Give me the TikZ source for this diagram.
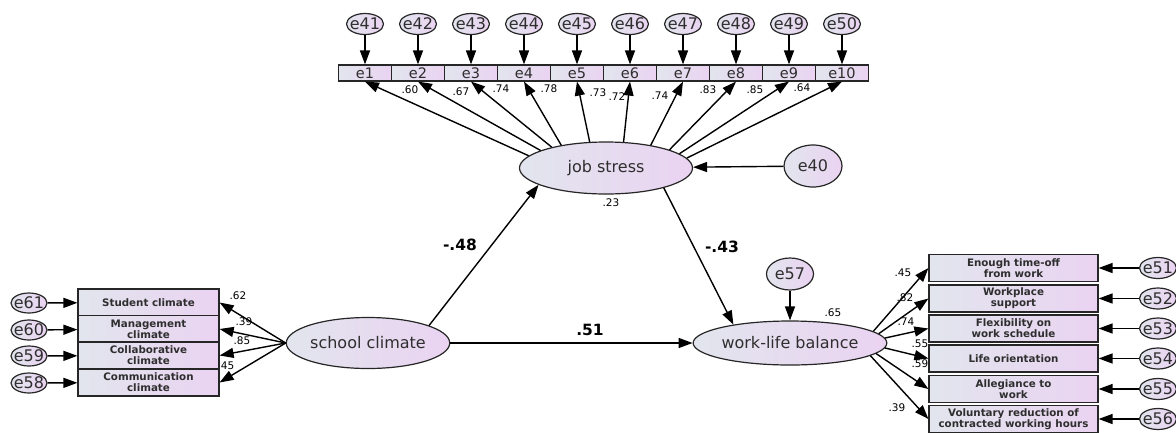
\documentclass[tikz,border=0pt]{standalone}
\usepackage{fontspec}
\setmainfont{DejaVu Sans}
\usetikzlibrary{shapes.geometric,arrows.meta}

\definecolor{amosblue}{HTML}{E2E5EE}
\definecolor{amoslilac}{HTML}{EAD3F1}
\definecolor{amostext}{HTML}{2E2E2E}

\tikzset{
  latent/.style={ellipse, draw=black!85, line width=1.2pt, left color=amosblue,
    right color=amoslilac, inner sep=0pt, text=amostext,
    font=\fontsize{16}{18}\selectfont},
  errvar/.style={ellipse, draw=black!85, line width=1.2pt, left color=amosblue,
    right color=amoslilac, inner xsep=-5pt, inner ysep=0pt, text=amostext,
    minimum width=37pt, minimum height=21pt, font=\fontsize{16}{18}\selectfont},
  obsbox/.style={rectangle, draw=black!85, line width=1.2pt, left color=amosblue,
    right color=amoslilac, inner sep=0pt, minimum width=53pt, minimum height=16pt,
    text=amostext, font=\fontsize{14.5}{15}\selectfont},
  itembox/.style={rectangle, draw=black!85, line width=1.2pt, left color=amosblue,
    right color=amoslilac, inner sep=0pt, minimum height=27pt, align=center,
    text=amostext, font=\bfseries\fontsize{10.3}{11}\selectfont},
  regarrow/.style={-{Triangle[length=14pt,width=10pt]}, line width=1.4pt},
  coef/.style={inner sep=0pt, font=\fontsize{10.5}{12}\selectfont},
  bcoef/.style={inner sep=0pt, font=\bfseries\fontsize{15.5}{17}\selectfont},
}

\begin{document}
\begin{tikzpicture}[x=1pt, y=-1pt]
\useasboundingbox (0,0) rectangle (1176,432);

% loadings drawn first (boxes cover them)
\node [coef] (c60) at (410,90) {.60};
\node [coef] (c67) at (461,92) {.67};
\node [coef] (c74a) at (501,89) {.74};
\node [coef] (c78) at (549,89) {.78};
\node [coef] (c73) at (598,93) {.73};
\node [coef] (c72) at (617,97) {.72};
\node [coef] (c74b) at (660,96) {.74};
\node [coef] (c83) at (708,90) {.83};
\node [coef] (c85) at (755,90) {.85};
\node [coef] (c64) at (802,88) {.64};

\node [coef] (c62) at (238,296) {.62};
\node [coef] (c39a) at (244,322) {.39};
\node [coef] (c85b) at (242,341) {.85};
\node [coef] (c45a) at (226,366) {.45};

\node [coef] (c45b) at (903,273) {.45};
\node [coef] (c82) at (905,298) {.82};
\node [coef] (c74c) at (906,322) {.74};
\node [coef] (c55) at (920,344) {.55};
\node [coef] (c59) at (920,364) {.59};
\node [coef] (c39b) at (897,408) {.39};

\node [coef] (r23) at (611,203) {.23};
\node [coef] (r65) at (833,313) {.65};

% job stress items
\node [obsbox] (b1) at (365,73) {e1};
\node [obsbox] (b2) at (418,73) {e2};
\node [obsbox] (b3) at (471,73) {e3};
\node [obsbox] (b4) at (524,73) {e4};
\node [obsbox] (b5) at (577,73) {e5};
\node [obsbox] (b6) at (630,73) {e6};
\node [obsbox] (b7) at (683,73) {e7};
\node [obsbox] (b8) at (736,73) {e8};
\node [obsbox] (b9) at (789,73) {e9};
\node [obsbox] (b10) at (842,73) {e10};

\node [errvar] (e41) at (365,24) {e41};
\node [errvar] (e42) at (418,24) {e42};
\node [errvar] (e43) at (471,24) {e43};
\node [errvar] (e44) at (524,24) {e44};
\node [errvar] (e45) at (577,24) {e45};
\node [errvar] (e46) at (630,24) {e46};
\node [errvar] (e47) at (683,24) {e47};
\node [errvar] (e48) at (736,24) {e48};
\node [errvar] (e49) at (789,24) {e49};
\node [errvar] (e50) at (842,24) {e50};

% school climate items
\node [itembox, minimum width=141pt] (l1) at (148.5,302.5) {Student climate};
\node [itembox, minimum width=141pt] (l2) at (148.5,329) {Management\\climate};
\node [itembox, minimum width=141pt] (l3) at (148.5,355.5) {Collaborative\\climate};
\node [itembox, minimum width=141pt] (l4) at (148.5,382.5) {Communication\\climate};

\node [errvar, minimum width=36pt, minimum height=20pt] (e61) at (29,303) {e61};
\node [errvar, minimum width=36pt, minimum height=20pt] (e60) at (29,330) {e60};
\node [errvar, minimum width=36pt, minimum height=20pt] (e59) at (29,356) {e59};
\node [errvar, minimum width=36pt, minimum height=20pt] (e58) at (29,383) {e58};

% work-life balance items
\node [itembox, minimum width=169pt] (r1) at (1013.5,268) {Enough time-off\\from work};
\node [itembox, minimum width=169pt] (r2) at (1013.5,298.5) {Workplace\\support};
\node [itembox, minimum width=169pt] (r3) at (1013.5,328.5) {Flexibility on\\work schedule};
\node [itembox, minimum width=169pt] (r4) at (1013.5,358.5) {Life orientation};
\node [itembox, minimum width=169pt] (r5) at (1013.5,389) {Allegiance to\\work};
\node [itembox, minimum width=169pt] (r6) at (1013.5,419) {Voluntary reduction of\\contracted working hours};

\node [errvar] (e51) at (1158,268) {e51};
\node [errvar] (e52) at (1158,298.5) {e52};
\node [errvar] (e53) at (1158,328.5) {e53};
\node [errvar] (e54) at (1158,358.5) {e54};
\node [errvar] (e55) at (1158,389) {e55};
\node [errvar] (e56) at (1158,419) {e56};

% latent variables
\node [latent, minimum width=173pt, minimum height=52pt] (js) at (606,168) {job stress};
\node [latent, minimum width=159pt, minimum height=51pt] (sc) at (368,343) {school climate};
\node [latent, minimum width=170pt, minimum height=44pt] (wlb) at (790,343) {work-life balance};
\node [errvar, minimum width=58pt, minimum height=42pt] (e40) at (813,166) {e40};
\node [errvar, minimum width=47pt, minimum height=32pt] (e57) at (790,274) {e57};

% structural paths
\draw [regarrow] (sc.16) -- (js.-166);
\draw [regarrow] (js.-19) -- (wlb.162);
\draw [regarrow] (sc) -- (wlb);
\draw [regarrow] (e40) -- (js);
\draw [regarrow] (e57) -- (wlb);

\node [bcoef] (p48) at (460,245) {-.48};
\node [bcoef] (p43) at (722,247) {-.43};
\node [bcoef] (p51) at (590,330) {.51};

% measurement paths
\draw [regarrow] (js.171) -- (b1.south);
\draw [regarrow] (js.165) -- (b2.south);
\draw [regarrow] (js.159) -- (b3.south);
\draw [regarrow] (js.153) -- (b4.south);
\draw [regarrow] (js.122) -- (b5.south);
\draw [regarrow] (js.56) -- (b6.south);
\draw [regarrow] (js.27) -- (b7.south);
\draw [regarrow] (js.16) -- (b8.south);
\draw [regarrow] (js.11) -- (b9.south);
\draw [regarrow] (js.7) -- (b10.south);

\draw [regarrow] (e41) -- (b1);
\draw [regarrow] (e42) -- (b2);
\draw [regarrow] (e43) -- (b3);
\draw [regarrow] (e44) -- (b4);
\draw [regarrow] (e45) -- (b5);
\draw [regarrow] (e46) -- (b6);
\draw [regarrow] (e47) -- (b7);
\draw [regarrow] (e48) -- (b8);
\draw [regarrow] (e49) -- (b9);
\draw [regarrow] (e50) -- (b10);

\draw [regarrow] (sc.west) -- (l1.east);
\draw [regarrow] (sc.west) -- (l2.east);
\draw [regarrow] (sc.west) -- (l3.east);
\draw [regarrow] (sc.west) -- (l4.east);

\draw [regarrow] (e61) -- (l1);
\draw [regarrow] (e60) -- (l2);
\draw [regarrow] (e59) -- (l3);
\draw [regarrow] (e58) -- (l4);

\draw [regarrow] (wlb.8) -- (r1.west);
\draw [regarrow] (wlb.6) -- (r2.west);
\draw [regarrow] (wlb.3) -- (r3.west);
\draw [regarrow] (wlb.-3) -- (r4.west);
\draw [regarrow] (wlb.-7) -- (r5.west);
\draw [regarrow] (wlb.-9) -- (r6.west);

\draw [regarrow] (e51) -- (r1);
\draw [regarrow] (e52) -- (r2);
\draw [regarrow] (e53) -- (r3);
\draw [regarrow] (e54) -- (r4);
\draw [regarrow] (e55) -- (r5);
\draw [regarrow] (e56) -- (r6);
\end{tikzpicture}
\end{document}
